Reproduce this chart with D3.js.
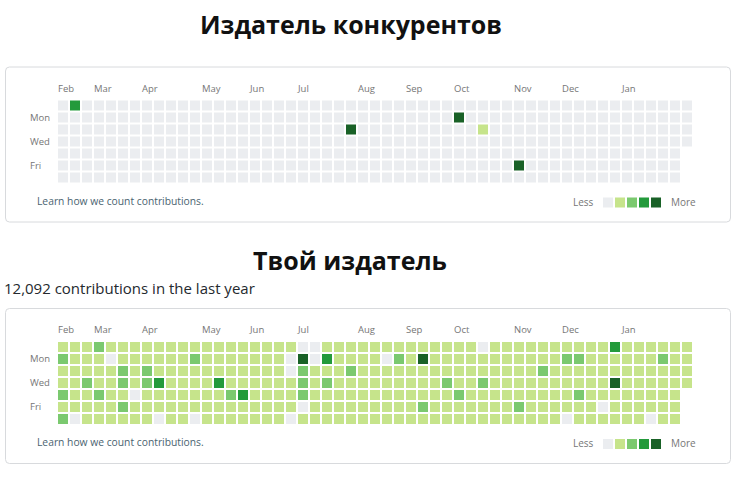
<!DOCTYPE html>
<html lang="ru">
<head>
<meta charset="UTF-8">
<script src="https://cdn.jsdelivr.net/npm/d3@7"></script>
<title>Contributions</title>
<style>
  body { margin: 0; background: #fff; }
  svg { display: block; font-family: "Open Sans", sans-serif; }
</style>
</head>
<body>
<script>
// ---------------- data ----------------
const months = ["Feb", "Mar", "Apr", "May", "Jun", "Jul", "Aug", "Sep", "Oct", "Nov", "Dec", "Jan"];
const monthCols = [0, 3, 7, 12, 16, 20, 25, 29, 33, 38, 42, 47];
const dayLabels = ["Mon", "Wed", "Fri"];
const dayRows = [1, 3, 5];
const levelColors = ["#ebedf0", "#c6e48b", "#7bc96f", "#239a3b", "#196127"];

// one string per weekday (Sun..Sat), one digit per week = contribution level
// (spaces only split the weeks into groups of ten)
const competitorRows = [
  "0300000000 0000000000 0000000000 0000000000 0000000000 000",
  "0000000000 0000000000 0000000000 0004000000 0000000000 000",
  "0000000000 0000000000 0000400000 0000010000 0000000000 000",
  "0000000000 0000000000 0000000000 0000000000 0000000000 000",
  "0000000000 0000000000 0000000000 0000000000 0000000000 00",
  "0000000000 0000000000 0000000000 0000000040 0000000000 00",
  "0000000000 0000000000 0000000000 0000000000 0000000000 00"
];
const yourRows = [
  "1112111111 1111111111 0011111111 1111101111 1111113111 111",
  "2111011111 1211111110 4031111021 4111111111 1122111111 211",
  "1111121211 1111111110 2111211111 1111111111 2111111111 111",
  "1121121231 1113111111 2121111111 1121121111 1111114111 111",
  "2112110111 1111231111 2111111111 1112111111 1112111111 11",
  "1111121111 1111111111 0111111111 2111111121 1111101111 11",
  "2011111101 1011111110 1111111111 1111111111 1101111110 11"
];
const totalText = "12,092 contributions in the last year";

// ---------------- layout ----------------
const width = 754, height = 480;
const cell = 10, step = 12;

const svg = d3.select("body").append("svg")
  .attr("width", width)
  .attr("height", height);

function toCells(rows) {
  const out = [];
  rows.forEach((r, day) => {
    r.replace(/ /g, "").split("").forEach((v, week) => out.push({ week: week, day: day, level: +v }));
  });
  return out;
}

function drawCalendar(g, rows) {
  const cells = toCells(rows);
  const weeks = d3.max(cells, d => d.week) + 1;
  const x = d3.scaleLinear().domain([0, weeks]).range([58, 58 + weeks * step]);
  const y = d3.scaleLinear().domain([0, 7]).range([0, 7 * step]);
  const color = d3.scaleOrdinal().domain(d3.range(5)).range(levelColors);

  // frame
  g.append("rect")
    .attr("x", 5.5).attr("y", -33.5)
    .attr("width", 725).attr("height", 155)
    .attr("rx", 4)
    .attr("fill", "#fff")
    .attr("stroke", "#d8dadd");

  g.selectAll("text.month")
    .data(months)
    .join("text")
    .attr("class", "month")
    .attr("x", (d, i) => x(monthCols[i]))
    .attr("y", -9)
    .attr("font-size", 9.5)
    .attr("fill", "#767676")
    .text(d => d);

  g.selectAll("text.day")
    .data(dayLabels)
    .join("text")
    .attr("class", "day")
    .attr("x", 30)
    .attr("y", (d, i) => y(dayRows[i]) + cell / 2)
    .attr("dy", "0.35em")
    .attr("font-size", 9.5)
    .attr("fill", "#767676")
    .text(d => d);

  g.selectAll("rect.cell")
    .data(cells)
    .join("rect")
    .attr("class", "cell")
    .attr("x", d => x(d.week))
    .attr("y", d => y(d.day))
    .attr("width", cell)
    .attr("height", cell)
    .attr("fill", d => color(d.level));

  g.append("text")
    .attr("x", 37)
    .attr("y", 104)
    .attr("font-size", 10.3)
    .attr("fill", "#4a6370")
    .text("Learn how we count contributions.");

  // legend
  const lx = d3.scaleLinear().domain([0, 1]).range([603, 603 + step]);
  g.append("text")
    .attr("x", 573).attr("y", 105)
    .attr("font-size", 10)
    .attr("fill", "#767676")
    .text("Less");
  g.selectAll("rect.legend")
    .data(levelColors)
    .join("rect")
    .attr("class", "legend")
    .attr("x", (d, i) => lx(i))
    .attr("y", 97)
    .attr("width", cell)
    .attr("height", cell)
    .attr("fill", d => d);
  g.append("text")
    .attr("x", 671).attr("y", 105)
    .attr("font-size", 10)
    .attr("fill", "#767676")
    .text("More");
}

// ---------------- titles ----------------
svg.append("text")
  .attr("x", 351).attr("y", 34)
  .attr("text-anchor", "middle")
  .attr("font-size", 25)
  .attr("font-weight", "bold")
  .attr("fill", "#111")
  .text("Издатель конкурентов");

svg.append("text")
  .attr("x", 350).attr("y", 270)
  .attr("text-anchor", "middle")
  .attr("font-size", 25)
  .attr("font-weight", "bold")
  .attr("fill", "#111")
  .text("Твой издатель");

svg.append("text")
  .attr("x", 4).attr("y", 294)
  .attr("font-size", 15)
  .attr("fill", "#24292e")
  .text(totalText);

drawCalendar(svg.append("g").attr("transform", "translate(0,100.5)"), competitorRows);
drawCalendar(svg.append("g").attr("transform", "translate(0,342)"), yourRows);
</script>
</body>
</html>
